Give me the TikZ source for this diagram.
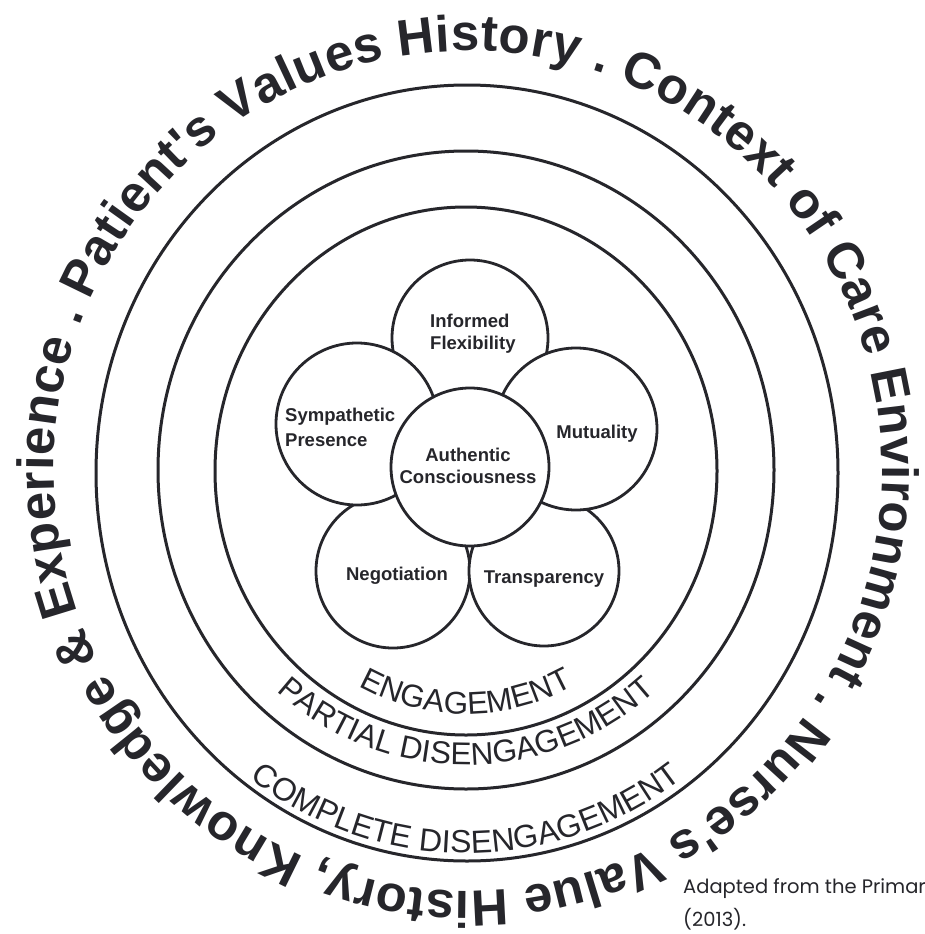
\documentclass[tikz,border=0pt]{standalone}
\usepackage{fontspec}
\setmainfont{Liberation Sans}
\newfontfamily\gfont{Poppins}
\usetikzlibrary{decorations.text}
\definecolor{ink}{HTML}{26262B}
\begin{document}
\begin{tikzpicture}[x=1pt,y=1pt,
  ring/.style={draw=ink, line width=3pt},
  petal/.style={circle, draw=ink, fill=white, line width=2.8pt, inner sep=0pt},
  lab/.style={font=\fontsize{18.5}{22}\selectfont\bfseries, text=ink, inner sep=0pt},
  arctext/.style={decorate, decoration={text along path, text align=center,
      text color=ink, text={#1}}},
]
\fill[white] (0,0) rectangle (924,-934);
\useasboundingbox (0,0) rectangle (924,-934);

% concentric rings
\draw[ring] (466,-471) ellipse [x radius=251pt, y radius=264pt];
\draw[ring] (466,-470) ellipse [x radius=308pt, y radius=319pt];
\draw[ring] (467,-473) ellipse [x radius=371pt, y radius=388pt];

% flower
\node[petal, minimum size=156pt] (inf) at (470,-338) {};
\node[petal, minimum size=154pt] (neg) at (393,-571) {};
\node[petal, minimum size=150pt] (tra) at (544,-571) {};
\node[petal, minimum size=162pt] (sym) at (357,-424) {};
\node[petal, minimum size=162pt] (mut) at (576,-429) {};
\node[petal, minimum size=158pt] (aut) at (470,-467) {};

\node[lab, align=left, anchor=west] (tinf) at (430,-334) {Informed\\Flexibility};
\node[lab, align=left, anchor=west, font=\fontsize{18.5}{25}\selectfont\bfseries] (tsym) at (285,-427) {Sympathetic\\Presence};
\node[lab, anchor=base] (tmut) at (597,-438) {Mutuality};
\node[lab, align=center] (taut) at (468,-466) {Authentic\\Consciousness};
\node[lab, anchor=base] (tneg) at (397,-580) {Negotiation};
\node[lab, anchor=base] (ttra) at (544,-583) {Transparency};

% ring labels
\path[shift={(466,-471)}, arctext={|\fontsize{31.5}{31}\selectfont|ENGAGEMENT}]
  (190:231pt and 243pt) arc[start angle=190, end angle=350, x radius=231pt, y radius=243pt];
\path[shift={(466,-471)}, arctext={|\fontsize{31.5}{31}\selectfont|PARTIAL DISENGAGEMENT}]
  (190:286pt and 294pt) arc[start angle=190, end angle=350, x radius=286pt, y radius=294pt];
\path[shift={(466,-471)}, arctext={|\fontsize{32}{31}\selectfont|COMPLETE DISENGAGEMENT}]
  (190:364pt and 382pt) arc[start angle=190, end angle=350, x radius=364pt, y radius=382pt];

% outer text
\path[shift={(468,-471)}, decorate, decoration={text along path, text align=fit to path,
   text color=ink,
   text={|\fontsize{51}{50}\selectfont\bfseries|Patient{\textquotesingle}s Values History . Context of Care Environment . Nurse{\textquotesingle}s Value History, Knowledge {\&} Experience .}}]
  (156:414pt and 420pt) arc[start angle=156, end angle=-202, x radius=414pt, y radius=420pt];

% attribution
\node[font=\gfont\fontsize{19.5}{19.5}\selectfont, text=ink, anchor=base west, inner sep=0pt] (src1) at (683,-893) {Adapted from the Primar};
\node[font=\gfont\fontsize{19.5}{19.5}\selectfont, text=ink, anchor=base west, inner sep=0pt] (src2) at (683,-926) {(2013).};
\end{tikzpicture}
\end{document}
